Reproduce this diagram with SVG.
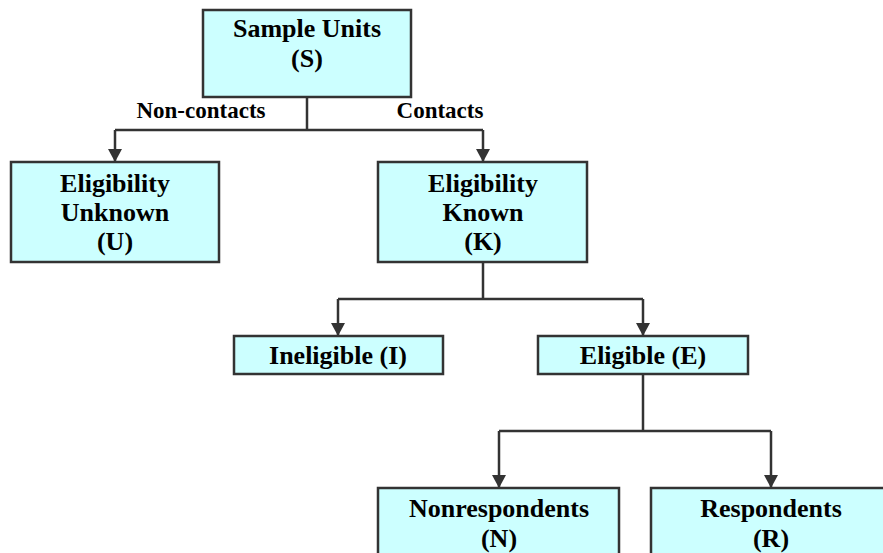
<svg xmlns="http://www.w3.org/2000/svg" width="883" height="553" viewBox="0 0 883 553">
<style>
.box{fill:#CCFFFF;stroke:#333333;stroke-width:2.5}
.t{font-family:"Liberation Serif","Times New Roman",serif;font-weight:bold;font-size:26px;fill:#000;text-anchor:middle}
.lbl{font-family:"Liberation Serif","Times New Roman",serif;font-weight:bold;font-size:23px;fill:#000;text-anchor:middle}
.c{fill:none;stroke:#333333;stroke-width:2.5}
</style>
<defs>
<marker id="arr" markerUnits="userSpaceOnUse" markerWidth="16" markerHeight="16" viewBox="0 0 16 16" refX="8" refY="14" orient="0">
<path d="M1,1 L15,1 L8,14 Z" fill="#333333"/>
</marker>
</defs>
<rect width="883" height="553" fill="#fff"/>
<g id="connectors">
<path class="c" d="M307,97 V130"/>
<path class="c" d="M115,130 H483"/>
<path class="c" d="M115,130 V162" marker-end="url(#arr)"/>
<path class="c" d="M483,130 V162" marker-end="url(#arr)"/>
<path class="c" d="M483,262 V299"/>
<path class="c" d="M338,299 H643"/>
<path class="c" d="M338,299 V336" marker-end="url(#arr)"/>
<path class="c" d="M643,299 V336" marker-end="url(#arr)"/>
<path class="c" d="M643,374 V431"/>
<path class="c" d="M499,431 H771"/>
<path class="c" d="M499,431 V488" marker-end="url(#arr)"/>
<path class="c" d="M771,431 V488" marker-end="url(#arr)"/>
<text class="lbl" x="201" y="118">Non-contacts</text>
<text class="lbl" x="440" y="118">Contacts</text>
</g>
<g id="S">
<rect class="box" x="203" y="10" width="208" height="87"/>
<text class="t" x="307" y="37">Sample Units</text>
<text class="t" x="307" y="67">(S)</text>
</g>
<g id="U">
<rect class="box" x="11" y="162" width="208" height="100"/>
<text class="t" x="115" y="192">Eligibility</text>
<text class="t" x="115" y="221">Unknown</text>
<text class="t" x="115" y="250">(U)</text>
</g>
<g id="K">
<rect class="box" x="378" y="162" width="209" height="100"/>
<text class="t" x="483" y="192">Eligibility</text>
<text class="t" x="483" y="221">Known</text>
<text class="t" x="483" y="250">(K)</text>
</g>
<g id="I">
<rect class="box" x="234" y="336" width="209" height="38"/>
<text class="t" x="338" y="364">Ineligible (I)</text>
</g>
<g id="E">
<rect class="box" x="538" y="336" width="210" height="38"/>
<text class="t" x="643" y="364">Eligible (E)</text>
</g>
<g id="N">
<rect class="box" x="378" y="488" width="241" height="80"/>
<text class="t" x="499" y="517">Nonrespondents</text>
<text class="t" x="499" y="547">(N)</text>
</g>
<g id="R">
<rect class="box" x="651" y="488" width="241" height="80"/>
<text class="t" x="771" y="517">Respondents</text>
<text class="t" x="771" y="547">(R)</text>
</g>
</svg>
